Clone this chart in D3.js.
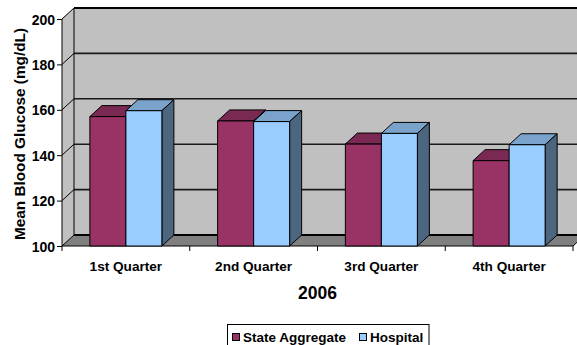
<!DOCTYPE html>
<html><head><meta charset="utf-8">
<script src="https://cdn.jsdelivr.net/npm/d3@7"></script>
<style>body{margin:0;background:#fff}svg{display:block}text{font-family:"Liberation Sans",Arial,sans-serif;font-weight:bold;fill:#000}</style>
</head><body>
<svg id="c" width="577" height="345"></svg>
<script>
const categories = ["1st Quarter", "2nd Quarter", "3rd Quarter", "4th Quarter"];
const seriesNames = ["State Aggregate", "Hospital"];
const stateValues = [157, 155.1, 144.9, 137.6];
const hospitalValues = [159.6, 154.8, 149.6, 144.6];
const yTicks = [100, 120, 140, 160, 180, 200];
const xTitle = "2006";
const yTitle = "Mean Blood Glucose (mg/dL)";

const svg = d3.select("#c");
const W = 577, H = 345;
const L = 62, R = 573, B = 246, T = 19;
const DX = 12, DY = -11;
const y = d3.scaleLinear().domain([100, 200]).range([B, T]);
const x = d3.scaleBand().domain(categories).range([L, R]).padding(0);
const bw = x.bandwidth();
const xs = d3.scaleBand().domain(seriesNames).range([0, bw]).paddingInner(0).paddingOuter(0.774);
const fronts = {"State Aggregate": "#993366", "Hospital": "#99CCFF"};
const tops = {"State Aggregate": "#7A2952", "Hospital": "#7AA3CC"};
const sides = {"State Aggregate": "#5C1F3D", "Hospital": "#4D6680"};

const clip = svg.append("defs").append("clipPath").attr("id", "cl");
clip.append("rect").attr("x", 0).attr("y", 0).attr("width", W).attr("height", H);
const g = svg.append("g").attr("clip-path", "url(#cl)");

// back wall
g.append("rect").attr("x", L + DX).attr("y", T + DY).attr("width", R - L + 20).attr("height", B - T)
  .attr("fill", "#C0C0C0");
// side wall
g.append("path").attr("d", `M${L},${B}L${L},${T}L${L+DX},${T+DY}L${L+DX},${B+DY}Z`).attr("fill", "#C0C0C0");
// gridlines
yTicks.filter(v => v > 100).forEach(v => {
  const yy = y(v);
  g.append("line").attr("x1", L + DX).attr("x2", R + DX + 20).attr("y1", yy + DY).attr("y2", yy + DY)
    .attr("stroke", v === 200 ? "#000" : "#1a1a1a").attr("stroke-width", v === 200 ? 2.2 : 1.6);
  g.append("line").attr("x1", L).attr("y1", yy).attr("x2", L + DX).attr("y2", yy + DY)
    .attr("stroke", "#000").attr("stroke-width", 1);
});
// back wall left edge
g.append("line").attr("x1", L + DX).attr("x2", L + DX).attr("y1", T + DY).attr("y2", B + DY).attr("stroke", "#000").attr("stroke-width", 1);
// floor
g.append("path").attr("d", `M${L},${B}L${R},${B}L${R+DX},${B+DY}L${L+DX},${B+DY}Z`).attr("fill", "#808080");
g.append("line").attr("x1", L + DX).attr("x2", R + DX + 20).attr("y1", B + DY).attr("y2", B + DY).attr("stroke", "#000").attr("stroke-width", 2);
g.append("line").attr("x1", L).attr("x2", L + DX).attr("y1", B).attr("y2", B + DY).attr("stroke", "#000").attr("stroke-width", 1);
g.append("line").attr("x1", R).attr("x2", R + DX).attr("y1", B).attr("y2", B + DY).attr("stroke", "#000").attr("stroke-width", 1);

// y axis
const ya = g.append("g").attr("transform", `translate(${L},0)`)
  .call(d3.axisLeft(y).tickValues(yTicks).tickSize(5).tickPadding(2).tickFormat(d3.format("d")));
ya.select(".domain").attr("d", `M0,${T}V${B}`).attr("stroke", "#000");
ya.selectAll("text").style("font-size", "14px").attr("dy", "0.36em");
ya.selectAll("line").attr("stroke", "#000");

// x axis
const xa = g.append("g").attr("transform", `translate(0,${B})`)
  .call(d3.axisBottom(x).tickSize(0).tickPadding(15));
xa.select(".domain").attr("d", `M${L},0H${R}`).attr("stroke", "#000");
xa.selectAll("text").style("font-size", "13.6px");
[...categories.map(c => x(c)), R].forEach(xx => {
  xa.append("line").attr("x1", xx).attr("x2", xx).attr("y1", 0).attr("y2", 5).attr("stroke", "#000");
});

// bars
const seriesVals = {"State Aggregate": stateValues, "Hospital": hospitalValues};
categories.forEach((c, i) => {
  seriesNames.forEach(s => {
    const v = seriesVals[s][i];
    const x0 = x(c) + xs(s), x1 = x0 + xs.bandwidth();
    const y0 = y(v);
    const bg = g.append("g").attr("stroke", "#000").attr("stroke-width", 1).attr("stroke-linejoin", "round");
    bg.append("path").attr("d", `M${x0},${y0}L${x0+DX},${y0+DY}L${x1+DX},${y0+DY}L${x1},${y0}Z`).attr("fill", tops[s]);
    bg.append("path").attr("d", `M${x1},${B}L${x1},${y0}L${x1+DX},${y0+DY}L${x1+DX},${B+DY}Z`).attr("fill", sides[s]);
    bg.append("rect").attr("x", x0).attr("y", y0).attr("width", x1 - x0).attr("height", B - y0).attr("fill", fronts[s]);
  });
});

// titles
g.append("text").attr("x", (L + R) / 2).attr("y", 299).attr("text-anchor", "middle")
  .style("font-size", "17.5px").text(xTitle);
g.append("text").attr("transform", "translate(25,134) rotate(-90)").attr("text-anchor", "middle")
  .style("font-size", "15px").attr("textLength", 212).attr("lengthAdjust", "spacingAndGlyphs").text(yTitle);

// legend
const lg = g.append("g");
lg.append("rect").attr("x", 227.5).attr("y", 324.5).attr("width", 201.5).attr("height", 40)
  .attr("fill", "#fff").attr("stroke", "#000");
const lx = [232, 359];
seriesNames.forEach((s, i) => {
  lg.append("rect").attr("x", lx[i] + 0.5).attr("y", 333.5).attr("width", 7).attr("height", 7)
    .attr("fill", fronts[s]).attr("stroke", "#000");
  lg.append("text").attr("x", lx[i] + 11).attr("y", 342).style("font-size", "13.5px").text(s);
});
</script>
</body></html>
